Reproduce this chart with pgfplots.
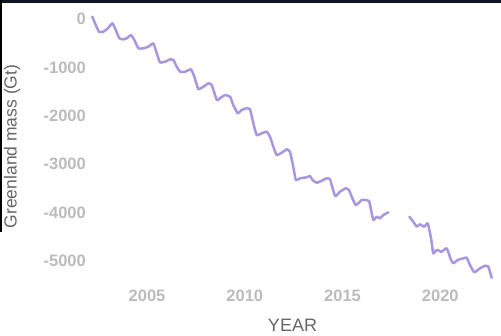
\documentclass[border=0pt]{standalone}
\usepackage{pgfplots}
\pgfplotsset{compat=1.18}
\usepackage{fontspec}
\setmainfont{Liberation Sans}
\definecolor{linec}{HTML}{A797E0}
\definecolor{tickc}{HTML}{BBBBBB}
\definecolor{labc}{HTML}{666666}
\definecolor{topbar}{HTML}{0D1520}
\begin{document}
\begin{tikzpicture}[x=1pt,y=1pt]
\path[use as bounding box] (0,0) rectangle (501,336);
\begin{axis}[
  at={(88.4pt,55.6pt)}, anchor=south west,
  scale only axis, width=406.6pt, height=266.2pt,
  xmin=2002, xmax=2022.8, ymin=-5400, ymax=100,
  axis line style={draw=none}, tick style={draw=none},
  major tick length=0pt,
  xtick={2005,2010,2015,2020}, xticklabels={2005,2010,2015,2020},
  ytick={0,-1000,-2000,-3000,-4000,-5000},
  yticklabels={0,-1000,-2000,-3000,-4000,-5000},
  ticklabel style={font=\fontsize{16.5}{19}\selectfont\bfseries, text=tickc, inner sep=0pt},
  xticklabel style={anchor=north, yshift=-9.6pt},
  yticklabel style={anchor=east, xshift=-2.4pt},
  clip=false,
]
\addplot[linec, line width=2.5pt, line join=round, line cap=round, smooth, tension=0.25] table {
x y
2002.20 48
2002.34 -89
2002.54 -262
2002.76 -262
2002.99 -192
2003.23 -89
2003.40 -227
2003.58 -399
2003.79 -419
2003.96 -399
2004.18 -331
2004.35 -434
2004.56 -605
2004.81 -605
2005.07 -572
2005.32 -502
2005.50 -709
2005.66 -895
2005.92 -882
2006.18 -833
2006.35 -847
2006.52 -985
2006.69 -1089
2006.94 -1089
2007.25 -1039
2007.42 -1192
2007.62 -1446
2007.88 -1399
2008.14 -1328
2008.31 -1364
2008.57 -1673
2008.79 -1618
2008.99 -1570
2009.25 -1605
2009.41 -1777
2009.64 -1948
2009.84 -1880
2010.10 -1845
2010.27 -1866
2010.44 -2155
2010.61 -2397
2010.87 -2361
2011.12 -2328
2011.29 -2432
2011.46 -2638
2011.63 -2810
2011.89 -2762
2012.15 -2692
2012.31 -2742
2012.48 -3051
2012.61 -3326
2012.83 -3291
2013.17 -3270
2013.34 -3244
2013.46 -3326
2013.68 -3382
2013.94 -3341
2014.19 -3291
2014.36 -3312
2014.62 -3657
2014.87 -3568
2015.16 -3498
2015.33 -3533
2015.47 -3671
2015.68 -3843
2015.98 -3739
2016.15 -3739
2016.36 -3760
2016.46 -3946
2016.58 -4153
2016.75 -4085
2016.92 -4118
2017.09 -4049
2017.34 -3994
};
\addplot[linec, line width=2.5pt, line join=round, line cap=round, smooth, tension=0.25] table {
x y
2018.42 -4085
2018.62 -4188
2018.80 -4291
2018.96 -4242
2019.18 -4291
2019.36 -4221
2019.53 -4531
2019.64 -4841
2019.82 -4772
2020.07 -4807
2020.33 -4737
2020.55 -4979
2020.67 -5047
2020.89 -4979
2021.18 -4944
2021.35 -4931
2021.52 -5082
2021.74 -5233
2022.03 -5151
2022.29 -5097
2022.46 -5117
2022.63 -5345
};
\end{axis}
\node[anchor=base, inner sep=0pt, text=labc, font=\fontsize{18}{20}\selectfont] at (292.5,4) {YEAR};
\node[anchor=base, rotate=90, inner sep=0pt, text=labc, font=\fontsize{17.5}{20}\selectfont] at (16.5,189.5) {Greenland mass (Gt)};
\fill[topbar] (0,332.5) rectangle (501,336);
\fill[black] (0,104) rectangle (2,336);
\end{tikzpicture}
\end{document}
